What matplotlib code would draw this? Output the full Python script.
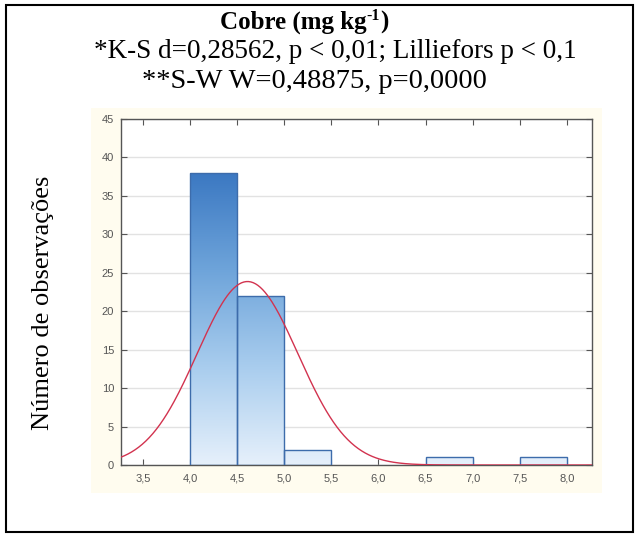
import numpy as np
import matplotlib
matplotlib.use("Agg")
import matplotlib.pyplot as plt
from matplotlib.patches import Rectangle
from matplotlib.colors import LinearSegmentedColormap
from matplotlib.ticker import FuncFormatter, MultipleLocator

# Histogram of copper content (class edges and counts)
bin_left = [4.0, 4.5, 5.0, 6.5, 7.5]
bin_width = 0.5
counts = [38, 22, 2, 1, 1]

# Fitted normal curve parameters
fit_mean = 4.61
fit_sd = 0.535
n_obs = sum(counts)

title_parts = ["Cobre (mg kg", "-1", ")"]
stat_lines = [
    "*K-S d=0,28562, p < 0,01; Lilliefors p < 0,1",
    "**S-W W=0,48875, p=0,0000",
]
ylabel = "Número de observações"

W, H = 635, 534
fig = plt.figure(figsize=(W / 100, H / 100), dpi=100)
fig.patch.set_facecolor("white")

# outer frame
fig.add_artist(Rectangle((6 / W, 1 - 532 / H), 627 / W, 527 / H,
                         transform=fig.transFigure, fill=False,
                         edgecolor="black", linewidth=1.5))
# cream panel behind the plot
fig.add_artist(Rectangle((91 / W, 1 - 493 / H), (602 - 91) / W, (493 - 108) / H,
                         transform=fig.transFigure, facecolor="#fffcef",
                         edgecolor="none", zorder=0))

serif = ["Liberation Serif", "DejaVu Serif"]

# title built from pieces so the exponent sits as a raised small "-1"
renderer = fig.canvas.get_renderer()
base_y = 1 - 29 / H
pieces = [
    fig.text(0, base_y, title_parts[0], fontsize=18, weight="bold",
             family=serif, va="baseline"),
    fig.text(0, base_y + 9 / H, title_parts[1], fontsize=11.5, weight="bold",
             family=serif, va="baseline"),
    fig.text(0, base_y, title_parts[2], fontsize=18, weight="bold",
             family=serif, va="baseline"),
]
widths = [p.get_window_extent(renderer).width for p in pieces]
x = 304 - sum(widths) / 2
for p, w in zip(pieces, widths):
    p.set_x(x / W)
    x += w

fig.text(335 / W, 1 - 51 / H, stat_lines[0], ha="center", va="center",
         fontsize=19.5, family=serif)
fig.text(314 / W, 1 - 81 / H, stat_lines[1], ha="center", va="center",
         fontsize=20.5, family=serif)
fig.text(43 / W, 1 - 303 / H, ylabel, rotation=90, ha="center", va="center",
         fontsize=19, family=serif)

ax = fig.add_axes([121 / W, 1 - 465 / H, (592 - 121) / W, (465 - 119) / H])
ax.set_facecolor("white")

ax.yaxis.set_major_locator(MultipleLocator(5))
ax.xaxis.set_major_locator(MultipleLocator(0.5))
ax.grid(axis="y", color="#e2e2e2", linewidth=1)
ax.set_axisbelow(True)

comma = FuncFormatter(lambda v, p: f"{v:.1f}".replace(".", ","))
ax.xaxis.set_major_formatter(comma)
ax.yaxis.set_major_formatter(FuncFormatter(lambda v, p: f"{v:.0f}"))
ax.tick_params(direction="in", top=True, right=True, length=4, width=0.8,
               color="#555555", labelsize=8, labelcolor="#555555")
ax.tick_params(axis="x", pad=6)
ax.tick_params(axis="y", pad=5)
for s in ax.spines.values():
    s.set_color("#555555")
    s.set_linewidth(1.0)

# vertical gradient shared by all bars
cmap = LinearSegmentedColormap.from_list(
    "bars", ["#e6f0fb", "#a9cdee", "#6ea4da", "#3b78c2"])
ymax_grad = max(counts)
grad = np.linspace(0, 1, 256).reshape(-1, 1)
for x0, c in zip(bin_left, counts):
    img = ax.imshow(grad, cmap=cmap, vmin=0, vmax=1, origin="lower",
                    extent=(3.267, 8.267, 0, ymax_grad), aspect="auto",
                    interpolation="bilinear", zorder=2)
    rect = Rectangle((x0, 0), bin_width, c, facecolor="none",
                     edgecolor="#3d6cab", linewidth=1.0, zorder=3)
    ax.add_patch(rect)
    img.set_clip_path(rect)
ax.set_xlim(3.267, 8.267)
ax.set_ylim(0, 45)

for lab in ax.get_xticklabels() + ax.get_yticklabels():
    lab.set_family("Liberation Sans")

# normal curve scaled to counts
xs = np.linspace(3.267, 8.267, 400)
ys = n_obs * bin_width * np.exp(-0.5 * ((xs - fit_mean) / fit_sd) ** 2) / (
    fit_sd * np.sqrt(2 * np.pi))
ax.plot(xs, ys, color="#d2334f", linewidth=1.0, zorder=4)

fig.savefig("out.png", dpi=100)
